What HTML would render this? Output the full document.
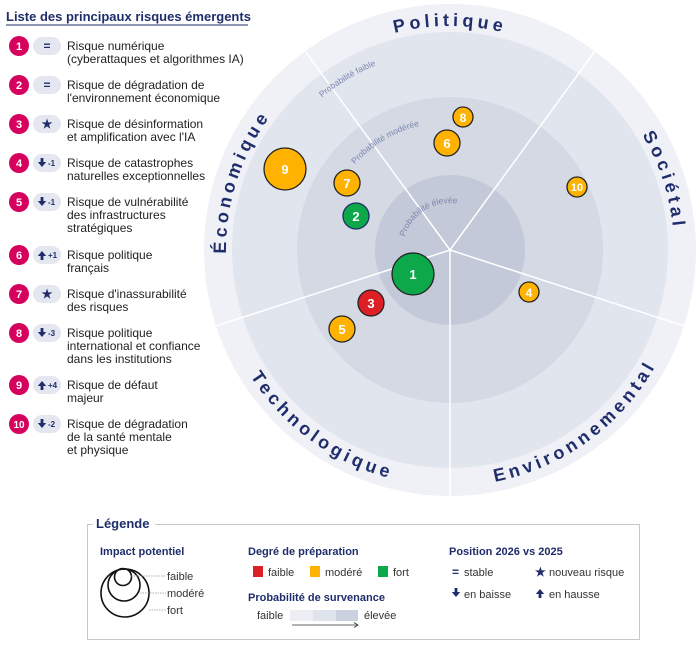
<!DOCTYPE html>
<html><head><meta charset="utf-8"><style>
body{margin:0;background:#fff;width:699px;height:648px;overflow:hidden;font-family:"Liberation Sans",sans-serif}
</style></head><body>
<svg width="699" height="648" viewBox="0 0 699 648" xmlns="http://www.w3.org/2000/svg" font-family="Liberation Sans, sans-serif">
<defs>
<path id="cw224" d="M450 474 A224 224 0 1 1 450 26 A224 224 0 1 1 450 474"/>
<path id="ccw236" d="M450 14 A236 236 0 1 0 450 486 A236 236 0 1 0 450 14"/>
<path id="cw199" d="M450 449 A199 199 0 1 1 450 51 A199 199 0 1 1 450 449"/>
<path id="cw128" d="M450 378 A128 128 0 1 1 450 122 A128 128 0 1 1 450 378"/>
<path id="cw47" d="M450 297 A47 47 0 1 1 450 203 A47 47 0 1 1 450 297"/>
<path id="dn" d="M-1.4,-5 h2.8 v4 h2.8 l-4.2,5 l-4.2,-5 h2.8z" fill="#1f2d6b"/>
<path id="up" d="M-1.4,5 h2.8 v-4 h2.8 l-4.2,-5 l-4.2,5 h2.8z" fill="#1f2d6b"/>
</defs>
<text x="6" y="21" font-size="13" fill="#1f2d6b" font-weight="bold">Liste des principaux risques émergents</text>
<line x1="6" y1="25" x2="248" y2="25" stroke="#1f2d6b" stroke-width="1"/>
<circle cx="450" cy="250" r="246" fill="#eff1f6"/>
<circle cx="450" cy="250" r="218" fill="#e1e5ee"/>
<circle cx="450" cy="250" r="153" fill="#d4d9e4"/>
<circle cx="450" cy="250" r="75" fill="#c3c9d8"/>
<g stroke="#fff" stroke-width="1.5">
<line x1="450" y1="250" x2="305" y2="51"/>
<line x1="450" y1="250" x2="595" y2="51"/>
<line x1="450" y1="250" x2="684" y2="326"/>
<line x1="450" y1="250" x2="216" y2="326"/>
<line x1="450" y1="250" x2="450" y2="496"/>
</g>
<g font-size="18" fill="#1f2d6b" letter-spacing="4" font-weight="bold" text-anchor="middle">
<text><textPath href="#cw224" startOffset="50%">Politique</textPath></text>
<text><textPath href="#cw224" startOffset="70%">Sociétal</textPath></text>
<text><textPath href="#cw224" startOffset="30%">Économique</textPath></text>
<text><textPath href="#ccw236" startOffset="40%">Technologique</textPath></text>
<text><textPath href="#ccw236" startOffset="60%">Environnemental</textPath></text>
</g>
<g font-size="8.5" fill="#7b87ad" text-anchor="middle">
<text><textPath href="#cw199" startOffset="41.4%">Probabilité faible</textPath></text>
<text><textPath href="#cw128" startOffset="41.4%">Probabilité modérée</textPath></text>
<text><textPath href="#cw47" startOffset="41%">Probabilité élevée</textPath></text>
</g>
<g stroke="#222" stroke-width="1.3" font-weight="bold" font-size="13" text-anchor="middle" fill="#fff">
<circle cx="413" cy="274" r="21" fill="#0ca84a"/><text x="413" y="279" stroke="none" fill="#fff">1</text>
<circle cx="356" cy="216" r="13" fill="#0ca84a" stroke="#1f2d6b"/><text x="356" y="221" stroke="none" fill="#fff">2</text>
<circle cx="371" cy="303" r="13" fill="#dd1f26"/><text x="371" y="308" stroke="none" fill="#fff">3</text>
<circle cx="529" cy="292" r="10" fill="#ffb300"/><text x="529" y="297" stroke="none" fill="#fff" font-size="12">4</text>
<circle cx="342" cy="329" r="13" fill="#ffb300"/><text x="342" y="334" stroke="none" fill="#fff">5</text>
<circle cx="447" cy="143" r="13" fill="#ffb300"/><text x="447" y="148" stroke="none" fill="#fff">6</text>
<circle cx="347" cy="183" r="13" fill="#ffb300"/><text x="347" y="188" stroke="none" fill="#fff">7</text>
<circle cx="463" cy="117" r="10" fill="#ffb300"/><text x="463" y="122" stroke="none" fill="#fff" font-size="12">8</text>
<circle cx="285" cy="169" r="21" fill="#ffb300"/><text x="285" y="174" stroke="none" fill="#fff">9</text>
<circle cx="577" cy="187" r="10" fill="#ffb300"/><text x="577" y="191" stroke="none" fill="#fff" font-size="11">10</text>
</g>
<g font-size="12" fill="#222">
<text x="67" y="50">Risque numérique</text><text x="67" y="63">(cyberattaques et algorithmes IA)</text>
<text x="67" y="89">Risque de dégradation de</text><text x="67" y="102">l'environnement économique</text>
<text x="67" y="128">Risque de désinformation</text><text x="67" y="141">et amplification avec l'IA</text>
<text x="67" y="167">Risque de catastrophes</text><text x="67" y="180">naturelles exceptionnelles</text>
<text x="67" y="206">Risque de vulnérabilité</text><text x="67" y="219">des infrastructures</text><text x="67" y="232">stratégiques</text>
<text x="67" y="259">Risque politique</text><text x="67" y="272">français</text>
<text x="67" y="298">Risque d'inassurabilité</text><text x="67" y="311">des risques</text>
<text x="67" y="337">Risque politique</text><text x="67" y="350">international et confiance</text><text x="67" y="363">dans les institutions</text>
<text x="67" y="389">Risque de défaut</text><text x="67" y="402">majeur</text>
<text x="67" y="428">Risque de dégradation</text><text x="67" y="441">de la santé mentale</text><text x="67" y="454">et physique</text>
</g>
<g fill="#d6005d">
<circle cx="19" cy="46" r="10"/><circle cx="19" cy="85" r="10"/><circle cx="19" cy="124" r="10"/><circle cx="19" cy="163" r="10"/><circle cx="19" cy="202" r="10"/>
<circle cx="19" cy="255" r="10"/><circle cx="19" cy="294" r="10"/><circle cx="19" cy="333" r="10"/><circle cx="19" cy="385" r="10"/><circle cx="19" cy="424" r="10"/>
</g>
<g fill="#fff" font-weight="bold" font-size="11" text-anchor="middle">
<text x="19" y="50">1</text><text x="19" y="89">2</text><text x="19" y="128">3</text><text x="19" y="167">4</text><text x="19" y="206">5</text>
<text x="19" y="259">6</text><text x="19" y="298">7</text><text x="19" y="337">8</text><text x="19" y="389">9</text><text x="19" y="428" font-size="10">10</text>
</g>
<g fill="#e4e7f0">
<rect x="33" y="37" width="28" height="18" rx="9"/><rect x="33" y="76" width="28" height="18" rx="9"/><rect x="33" y="115" width="28" height="18" rx="9"/><rect x="33" y="154" width="28" height="18" rx="9"/><rect x="33" y="193" width="28" height="18" rx="9"/>
<rect x="33" y="246" width="28" height="18" rx="9"/><rect x="33" y="285" width="28" height="18" rx="9"/><rect x="33" y="324" width="28" height="18" rx="9"/><rect x="33" y="376" width="28" height="18" rx="9"/><rect x="33" y="415" width="28" height="18" rx="9"/>
</g>
<g fill="#1f2d6b" font-weight="bold" font-size="12" text-anchor="middle">
<text x="47" y="50">=</text><text x="47" y="89">=</text><text x="47" y="128">★</text><text x="47" y="298">★</text>
</g>
<use href="#dn" x="42" y="163"/><use href="#dn" x="42" y="202"/><use href="#up" x="42" y="255"/>
<use href="#dn" x="42" y="333"/><use href="#up" x="42" y="385"/><use href="#dn" x="42" y="424"/>
<g fill="#1f2d6b" font-weight="bold" font-size="8">
<text x="48" y="166">-1</text><text x="48" y="205">-1</text><text x="48" y="258">+1</text><text x="48" y="336">-3</text><text x="48" y="388">+4</text><text x="48" y="427">-2</text>
</g>
<!-- legend -->
<rect x="87.5" y="524.5" width="552" height="115" fill="none" stroke="#c8c8c8"/>
<rect x="93" y="515" width="62" height="16" fill="#fff"/>
<text x="96" y="528" font-size="13" fill="#1f2d6b" font-weight="bold">Légende</text>
<g font-size="11" fill="#1f2d6b" font-weight="bold">
<text x="100" y="555">Impact potentiel</text>
<text x="248" y="555">Degré de préparation</text>
<text x="449" y="555">Position 2026 vs 2025</text>
<text x="248" y="601">Probabilité de survenance</text>
</g>
<g fill="none" stroke="#111" stroke-width="1.6">
<circle cx="125" cy="593" r="24"/><circle cx="124" cy="585" r="16"/><circle cx="123" cy="577" r="8.5"/>
</g>
<g stroke="#999" stroke-width="0.8" stroke-dasharray="1.5 1">
<line x1="131" y1="576" x2="166" y2="576"/><line x1="140" y1="593" x2="166" y2="593"/><line x1="149" y1="610" x2="166" y2="610"/>
</g>
<g font-size="11" fill="#333">
<text x="167" y="580">faible</text><text x="167" y="597">modéré</text><text x="167" y="614">fort</text>
<text x="268" y="576">faible</text><text x="325" y="576">modéré</text><text x="393" y="576">fort</text>
<text x="257" y="619">faible</text><text x="364" y="619">élevée</text>
<text x="464" y="576">stable</text><text x="549" y="576">nouveau risque</text>
<text x="464" y="598">en baisse</text><text x="549" y="598">en hausse</text>
</g>
<rect x="253" y="566" width="10" height="11" fill="#dd1f26"/>
<rect x="310" y="566" width="10" height="11" fill="#ffb300"/>
<rect x="378" y="566" width="10" height="11" fill="#0ca84a"/>
<rect x="290" y="610" width="23" height="11" fill="#eceef4"/>
<rect x="313" y="610" width="23" height="11" fill="#dfe3ec"/>
<rect x="336" y="610" width="22" height="11" fill="#cbd1df"/>
<line x1="292" y1="625" x2="357" y2="625" stroke="#333" stroke-width="0.8"/>
<path d="M354 622.5 L358 625 L354 627.5" fill="none" stroke="#333" stroke-width="0.8"/>
<g fill="#1f2d6b" font-weight="bold" font-size="12">
<text x="452" y="576">=</text><text x="535" y="576">★</text>
</g>
<use href="#dn" x="456" y="593"/><use href="#up" x="540" y="593"/>
</svg>
</body></html>
